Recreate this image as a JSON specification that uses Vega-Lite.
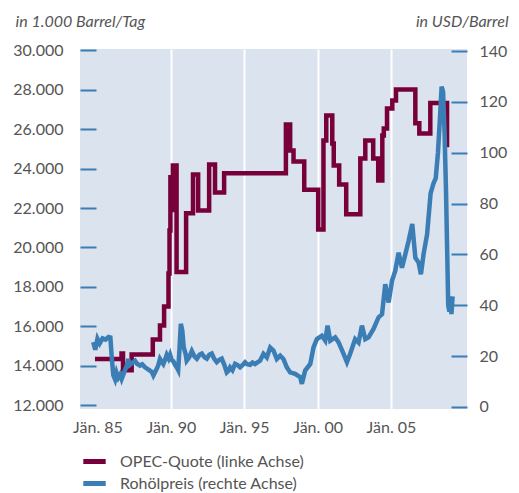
{
  "$schema": "https://vega.github.io/schema/vega-lite/v6.json",
  "width": 387,
  "height": 360,
  "autosize": {"type": "none"},
  "padding": {"left": 80, "top": 49, "right": 52, "bottom": 84},
  "background": "white",
  "config": {
    "font": "Lato",
    "view": {"fill": "#dae3ee", "stroke": null}
  },
  "datasets": {
    "opec": [
      {"year": 1984.83, "quota": 14340},
      {"year": 1986.64, "quota": 14620},
      {"year": 1986.74, "quota": 13760},
      {"year": 1987.33, "quota": 14570},
      {"year": 1988.77, "quota": 15330},
      {"year": 1989.26, "quota": 16040},
      {"year": 1989.54, "quota": 17000},
      {"year": 1989.84, "quota": 18680},
      {"year": 1989.91, "quota": 20860},
      {"year": 1989.97, "quota": 23570},
      {"year": 1990.07, "quota": 21900},
      {"year": 1990.14, "quota": 24160},
      {"year": 1990.39, "quota": 18750},
      {"year": 1991.04, "quota": 21730},
      {"year": 1991.51, "quota": 23700},
      {"year": 1991.86, "quota": 21880},
      {"year": 1992.61, "quota": 24210},
      {"year": 1993.01, "quota": 22790},
      {"year": 1993.63, "quota": 23770},
      {"year": 1997.84, "quota": 26240},
      {"year": 1998.13, "quota": 24920},
      {"year": 1998.36, "quota": 24370},
      {"year": 1999.09, "quota": 22930},
      {"year": 2000.04, "quota": 20910},
      {"year": 2000.4, "quota": 25430},
      {"year": 2000.59, "quota": 26700},
      {"year": 2001.0, "quota": 25280},
      {"year": 2001.1, "quota": 24160},
      {"year": 2001.47, "quota": 23200},
      {"year": 2001.95, "quota": 21680},
      {"year": 2002.91, "quota": 24520},
      {"year": 2003.25, "quota": 25430},
      {"year": 2003.79, "quota": 24520},
      {"year": 2004.13, "quota": 23400},
      {"year": 2004.41, "quota": 25690},
      {"year": 2004.51, "quota": 26040},
      {"year": 2004.73, "quota": 27060},
      {"year": 2005.09, "quota": 27460},
      {"year": 2005.34, "quota": 28020},
      {"year": 2006.66, "quota": 26310},
      {"year": 2006.93, "quota": 25790},
      {"year": 2007.68, "quota": 27330},
      {"year": 2008.82, "quota": 25090}
    ],
    "price": [
      {"year": 1984.71, "price": 25.5},
      {"year": 1984.85, "price": 22.5},
      {"year": 1985.0, "price": 26.8},
      {"year": 1985.15, "price": 25.0},
      {"year": 1985.35, "price": 27.0},
      {"year": 1985.55, "price": 26.5},
      {"year": 1985.75, "price": 27.5},
      {"year": 1985.88, "price": 27.3},
      {"year": 1985.98, "price": 19.0},
      {"year": 1986.08, "price": 12.5},
      {"year": 1986.2, "price": 10.8},
      {"year": 1986.3, "price": 13.5},
      {"year": 1986.42, "price": 11.5},
      {"year": 1986.55, "price": 12.8},
      {"year": 1986.65, "price": 11.0},
      {"year": 1986.78, "price": 13.0},
      {"year": 1986.9, "price": 14.8},
      {"year": 1987.0, "price": 16.3},
      {"year": 1987.1, "price": 18.9},
      {"year": 1987.2, "price": 16.5},
      {"year": 1987.35, "price": 17.2},
      {"year": 1987.56, "price": 18.2},
      {"year": 1987.7, "price": 17.0},
      {"year": 1987.9, "price": 16.3},
      {"year": 1988.05, "price": 16.8},
      {"year": 1988.24, "price": 15.6},
      {"year": 1988.4, "price": 15.0},
      {"year": 1988.58, "price": 14.3},
      {"year": 1988.7, "price": 13.8},
      {"year": 1988.81, "price": 12.4},
      {"year": 1988.95, "price": 14.0},
      {"year": 1989.04, "price": 15.0},
      {"year": 1989.15, "price": 16.5},
      {"year": 1989.26, "price": 18.9},
      {"year": 1989.38, "price": 17.8},
      {"year": 1989.49, "price": 16.9},
      {"year": 1989.6, "price": 18.5},
      {"year": 1989.72, "price": 20.5},
      {"year": 1989.85, "price": 19.0},
      {"year": 1989.95, "price": 20.5},
      {"year": 1990.05, "price": 18.5},
      {"year": 1990.17, "price": 18.0},
      {"year": 1990.3, "price": 16.5},
      {"year": 1990.4, "price": 15.6},
      {"year": 1990.5, "price": 14.5},
      {"year": 1990.58, "price": 22.0},
      {"year": 1990.68, "price": 32.7},
      {"year": 1990.78, "price": 30.0},
      {"year": 1990.88, "price": 23.4},
      {"year": 1991.0, "price": 21.0},
      {"year": 1991.08, "price": 18.2},
      {"year": 1991.25, "price": 19.5},
      {"year": 1991.43, "price": 22.0},
      {"year": 1991.6, "price": 20.0},
      {"year": 1991.77, "price": 19.0},
      {"year": 1991.95, "price": 20.5},
      {"year": 1992.11, "price": 21.0},
      {"year": 1992.3, "price": 19.5},
      {"year": 1992.45, "price": 19.0},
      {"year": 1992.62, "price": 20.5},
      {"year": 1992.79, "price": 21.0},
      {"year": 1992.95, "price": 19.0},
      {"year": 1993.13, "price": 17.6},
      {"year": 1993.3, "price": 18.5},
      {"year": 1993.47, "price": 19.0},
      {"year": 1993.65, "price": 16.5},
      {"year": 1993.81, "price": 13.6},
      {"year": 1993.92, "price": 14.2},
      {"year": 1994.04, "price": 15.6},
      {"year": 1994.2, "price": 14.5},
      {"year": 1994.38, "price": 17.0},
      {"year": 1994.55, "price": 16.5},
      {"year": 1994.72, "price": 15.6},
      {"year": 1994.9, "price": 16.5},
      {"year": 1995.06, "price": 17.6},
      {"year": 1995.2, "price": 16.8},
      {"year": 1995.4, "price": 16.6},
      {"year": 1995.57, "price": 17.5},
      {"year": 1995.74, "price": 16.9},
      {"year": 1995.9, "price": 17.5},
      {"year": 1996.08, "price": 18.2},
      {"year": 1996.31, "price": 20.9},
      {"year": 1996.54, "price": 19.5},
      {"year": 1996.77, "price": 23.4},
      {"year": 1996.99, "price": 22.2},
      {"year": 1997.22, "price": 18.9},
      {"year": 1997.45, "price": 20.2},
      {"year": 1997.67, "price": 18.9},
      {"year": 1997.9, "price": 15.6},
      {"year": 1998.13, "price": 13.6},
      {"year": 1998.47, "price": 13.0},
      {"year": 1998.81, "price": 11.7},
      {"year": 1998.93, "price": 9.1},
      {"year": 1999.15, "price": 14.3},
      {"year": 1999.5, "price": 16.9},
      {"year": 1999.72, "price": 23.4},
      {"year": 1999.95, "price": 26.7},
      {"year": 2000.29, "price": 28.0},
      {"year": 2000.52, "price": 26.1},
      {"year": 2000.68, "price": 32.0},
      {"year": 2000.86, "price": 26.1},
      {"year": 2001.2, "price": 27.4},
      {"year": 2001.43, "price": 25.4},
      {"year": 2001.77, "price": 20.9},
      {"year": 2002.0, "price": 17.6},
      {"year": 2002.22, "price": 20.9},
      {"year": 2002.56, "price": 26.7},
      {"year": 2002.79, "price": 25.4},
      {"year": 2003.02, "price": 32.0},
      {"year": 2003.25, "price": 26.7},
      {"year": 2003.47, "price": 27.4},
      {"year": 2003.81, "price": 30.7},
      {"year": 2004.15, "price": 35.2},
      {"year": 2004.39, "price": 36.5},
      {"year": 2004.61, "price": 48.3},
      {"year": 2004.84, "price": 41.1},
      {"year": 2005.07, "price": 49.6},
      {"year": 2005.29, "price": 53.5},
      {"year": 2005.52, "price": 60.7},
      {"year": 2005.75, "price": 54.8},
      {"year": 2005.98, "price": 60.1},
      {"year": 2006.2, "price": 65.3},
      {"year": 2006.45, "price": 72.0},
      {"year": 2006.66, "price": 58.7},
      {"year": 2006.88, "price": 56.8},
      {"year": 2007.04, "price": 52.2},
      {"year": 2007.22, "price": 60.1},
      {"year": 2007.46, "price": 67.9},
      {"year": 2007.7, "price": 84.0},
      {"year": 2007.9, "price": 88.0},
      {"year": 2008.05, "price": 90.0},
      {"year": 2008.2, "price": 100.0},
      {"year": 2008.35, "price": 115.0},
      {"year": 2008.45, "price": 126.0},
      {"year": 2008.55, "price": 124.0},
      {"year": 2008.65, "price": 108.0},
      {"year": 2008.75, "price": 85.0},
      {"year": 2008.82, "price": 64.0},
      {"year": 2008.9, "price": 40.0},
      {"year": 2008.98, "price": 37.5},
      {"year": 2009.05, "price": 43.5},
      {"year": 2009.12, "price": 36.5},
      {"year": 2009.2, "price": 43.5}
    ]
  },
  "layer": [
    {
      "data": {"name": "opec"},
      "mark": {"type": "line", "interpolate": "step-after", "strokeWidth": 4.5},
      "encoding": {
        "x": {
          "field": "year",
          "type": "quantitative",
          "scale": {"domain": [1983.81, 2010.18], "nice": false, "zero": false},
          "axis": {
            "title": null,
            "values": [1985, 1990, 1995, 2000, 2005],
            "labelExpr": "'Jän. ' + slice(toString(datum.value), 2)",
            "domain": false,
            "ticks": false,
            "grid": true,
            "gridColor": "white",
            "gridWidth": 2,
            "gridOpacity": {"condition": {"test": "datum.value == 1985", "value": 0}, "value": 1},
            "labelFontSize": 16,
            "labelColor": "#555555",
            "labelPadding": 10
          }
        },
        "y": {
          "field": "quota",
          "type": "quantitative",
          "scale": {"domain": [11797, 30076], "nice": false, "zero": false},
          "axis": {
            "orient": "left",
            "values": [12000, 14000, 16000, 18000, 20000, 22000, 24000, 26000, 28000, 30000],
            "labelExpr": "replace(format(datum.value, ','), ',', '.')",
            "title": "in 1.000 Barrel/Tag",
            "titleAngle": 0,
            "titleX": -65,
            "titleY": -28,
            "titleAlign": "left",
            "titleBaseline": "middle",
            "titleFontStyle": "italic",
            "titleFontWeight": "normal",
            "titleFontSize": 16,
            "titleColor": "#555555",
            "domain": false,
            "grid": false,
            "tickColor": "#3b7db5",
            "tickSize": -16,
            "tickWidth": 2,
            "labelPadding": 33,
            "labelFontSize": 16,
            "labelColor": "#555555"
          }
        },
        "color": {
          "datum": "OPEC-Quote (linke Achse)",
          "type": "nominal",
          "scale": {
            "domain": ["OPEC-Quote (linke Achse)", "Rohölpreis (rechte Achse)"],
            "range": ["#78003a", "#3b7db5"]
          },
          "legend": {
            "title": null,
            "orient": "none",
            "legendX": 4,
            "legendY": 402,
            "direction": "vertical",
            "symbolType": "M-1.4,0H1.4",
            "symbolStrokeWidth": 5,
            "symbolSize": 256,
            "labelFontSize": 16,
            "labelColor": "#555555",
            "labelOffset": 15,
            "labelLimit": 0,
            "rowPadding": 1
          }
        }
      }
    },
    {
      "data": {"name": "price"},
      "mark": {"type": "line", "strokeWidth": 4.5},
      "encoding": {
        "x": {"field": "year", "type": "quantitative"},
        "y": {
          "field": "price",
          "type": "quantitative",
          "scale": {"domain": [-0.8, 140.8], "nice": false, "zero": false},
          "axis": {
            "orient": "right",
            "values": [0, 20, 40, 60, 80, 100, 120, 140],
            "title": "in USD/Barrel",
            "titleAngle": 0,
            "titleX": 41,
            "titleY": -28,
            "titleAlign": "right",
            "titleBaseline": "middle",
            "titleFontStyle": "italic",
            "titleFontWeight": "normal",
            "titleFontSize": 16,
            "titleColor": "#555555",
            "domain": false,
            "grid": false,
            "tickColor": "#3b7db5",
            "tickSize": -16,
            "tickWidth": 2,
            "labelPadding": 28,
            "labelFontSize": 16,
            "labelColor": "#555555"
          }
        },
        "color": {"datum": "Rohölpreis (rechte Achse)", "type": "nominal"}
      }
    }
  ],
  "resolve": {"scale": {"y": "independent"}}
}
